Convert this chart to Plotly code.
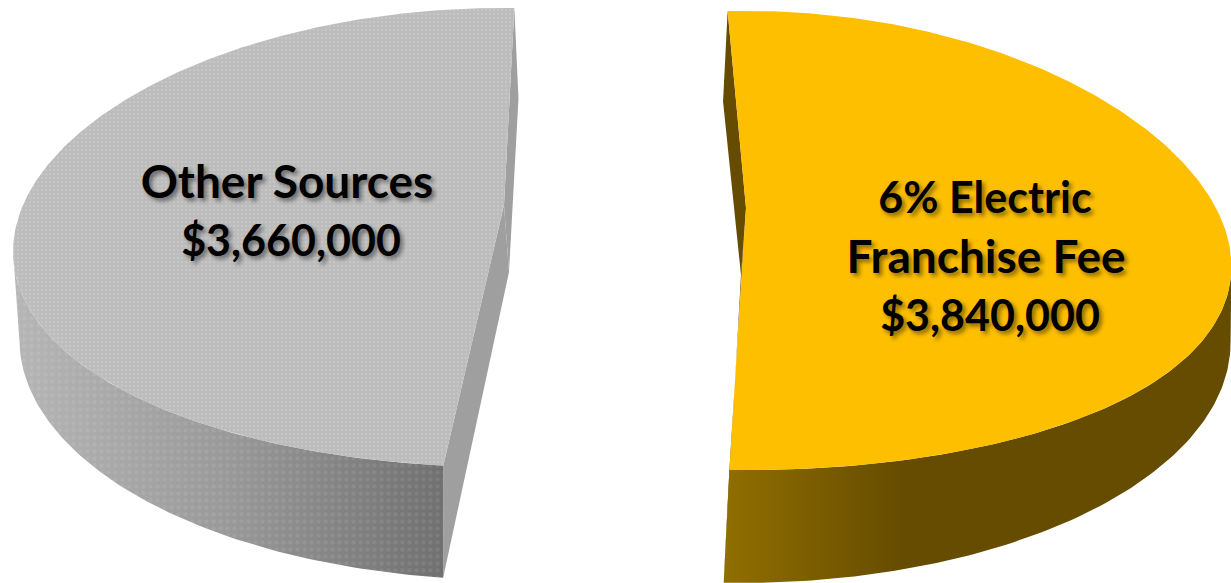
import numpy as np
import plotly.graph_objects as go

# Revenue split drawn as two pulled-apart 3-D pie wedges
names = ["Other Sources", "6% Electric Franchise Fee"]
amounts = [3660000, 3840000]
label_lines = [["Other Sources"], ["6% Electric", "Franchise Fee"]]

# Projection of each wedge: apex position, radii and perspective of the top and bottom rims
views = [
    dict(start=185.8, top=(504, 205, 481, 0.20, 225, 0.1416), bottom=(509, 272, 470, 0.28, 222, 0.279),
         face="#bcbcbc", cut="#9f9f9f", wall=["#b6b6b6", "#999999", "#707070"], mid=0.5, dots=0.30, wall_dots=0.16,
         label_x=[287, 291], label_y=186, sizes=[46, 43]),
    dict(start=-2.8, top=(746, 208, 470, 0.25, 225, 0.1416), bottom=(741, 275, 470, 0.28, 222, 0.279),
         face="#fdbf00", cut="#664c00", wall=["#906f00", "#664c00", "#664c00"], mid=0.35, dots=0, wall_dots=0,
         label_x=[985, 986, 990], label_y=202, sizes=[43, 46, 43]),
]
LINE_STEP = 59


def rim(theta_deg, cx, cy, rx, kx, ry, ky):
    theta = np.radians(theta_deg)
    side, depth = np.sin(theta), -np.cos(theta)
    return cx + rx * side / (1 - kx * depth), cy + ry * depth / (1 - ky * depth)


def solid(x, y, color):
    return go.Scatter(x=x, y=y, mode="lines", fill="toself", fillcolor=color,
                      line=dict(width=0), hoverinfo="skip", showlegend=False)


def dotted(x, y, size, alpha):
    return go.Scatter(x=x, y=y, mode="lines", fill="toself", fillcolor="rgba(0,0,0,0)",
                      fillpattern=dict(shape=".", size=size, solidity=0.3,
                                       fgcolor=f"rgba(255,255,255,{alpha})"),
                      line=dict(width=0), hoverinfo="skip", showlegend=False)


def front_of_silhouette(rim_x, cx, depth):
    # Part of a rim between its widest point and the front of the wedge
    return depth >= depth[np.argmax(np.abs(rim_x - cx))]


fig = go.Figure()
total = sum(amounts)

for amount, view in zip(amounts, views):
    sweep = 360 * amount / total
    angles = np.linspace(view["start"], view["start"] + sweep, 240)
    depth = -np.cos(np.radians(angles))
    tx, ty = rim(angles, *view["top"])
    bx, by = rim(angles, *view["bottom"])

    # Faces exposed where the wedge was cut from the pie
    for i in (0, -1):
        fig.add_trace(solid([tx[i], view["top"][0], view["bottom"][0], bx[i], tx[i]],
                            [ty[i], view["top"][1], view["bottom"][1], by[i], ty[i]], view["cut"]))

    # Curved outer wall, from silhouette to front, with its left-to-right shading
    top_part = front_of_silhouette(tx, view["top"][0], depth)
    bottom_part = front_of_silhouette(bx, view["bottom"][0], depth)
    wall_x = np.r_[tx[top_part], bx[bottom_part][::-1], tx[top_part][0]]
    wall_y = np.r_[ty[top_part], by[bottom_part][::-1], ty[top_part][0]]
    wall = solid(wall_x, wall_y, view["wall"][1])
    wall.update(fillgradient=dict(type="horizontal",
                                  colorscale=[[0, view["wall"][0]], [view["mid"], view["wall"][1]],
                                              [1, view["wall"][2]]]))
    fig.add_trace(wall)
    if view["wall_dots"]:
        fig.add_trace(dotted(wall_x, wall_y, 7, view["wall_dots"]))

    # Top surface
    top_x = np.r_[view["top"][0], tx, view["top"][0]]
    top_y = np.r_[view["top"][1], ty, view["top"][1]]
    fig.add_trace(solid(top_x, top_y, view["face"]))
    if view["dots"]:
        fig.add_trace(dotted(top_x, top_y, 4, view["dots"]))

# Slice labels, the dollar line is formatted from the slice amount
for amount, lines, view in zip(amounts, label_lines, views):
    rows = lines + [f"${amount:,.0f}"]
    fig.add_trace(go.Scatter(
        x=view["label_x"],
        y=[view["label_y"] + LINE_STEP * i for i in range(len(rows))],
        text=rows, mode="text", textposition="middle center",
        textfont=dict(family="Lato", size=view["sizes"], color="black", weight=700,
                      shadow="3px 3px 4px rgba(0,0,0,0.45)"),
        hoverinfo="skip", showlegend=False))

fig.update_layout(
    width=1231, height=583, margin=dict(l=0, r=0, t=0, b=0),
    paper_bgcolor="white", plot_bgcolor="white", showlegend=False,
    xaxis=dict(range=[0, 1231], visible=False, fixedrange=True),
    yaxis=dict(range=[583, 0], visible=False, fixedrange=True),
)
fig.write_html("out.html")
